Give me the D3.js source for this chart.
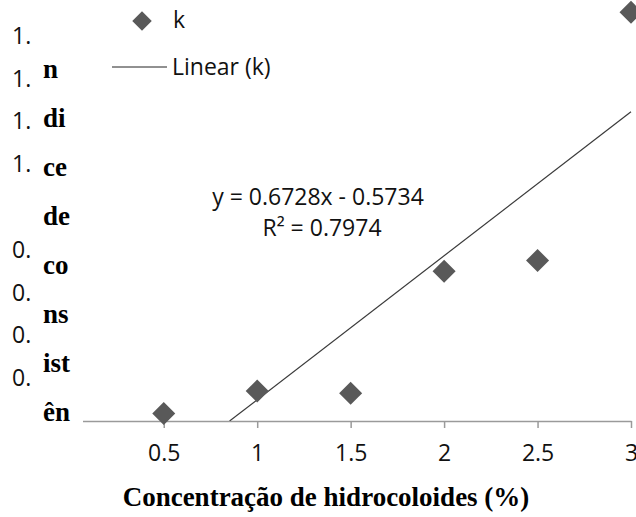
<!DOCTYPE html>
<html>
<head>
<meta charset="utf-8">
<script src="https://cdn.jsdelivr.net/npm/d3@7"></script>
<style>
  body { margin: 0; background: #fff; }
  svg { display: block; }
</style>
</head>
<body>
<script>
// Consistency index k versus hydrocolloid concentration
const concentration = [0.5, 1, 1.5, 2, 2.5, 3];
const kValues = [0.035, 0.14, 0.13, 0.70, 0.75, 1.91];
const xTicks = [0.5, 1, 1.5, 2, 2.5, 3];
const yTicks = [0.2, 0.4, 0.6, 0.8, 1.2, 1.4, 1.6, 1.8];
const trendSlope = 0.6728;
const trendIntercept = -0.5734;
const trendR2 = 0.7974;
const yTitleLines = ["n", "di", "ce", "de", "co", "ns", "ist", "ên"];
const xTitle = "Concentração de hidrocoloides (%)";

const W = 636, H = 517;
const sans = "'Open Sans', sans-serif";
const serif = "'Liberation Serif', 'Times New Roman', serif";
const markColor = "#595959";
const textSize = 23;

const svg = d3.select("body").append("svg")
  .attr("width", W).attr("height", H);

const x = d3.scaleLinear().domain([0, 3]).range([70.3, 631]);
const y = d3.scaleLinear().domain([0, 2]).range([421, -7]);

// clip region for the plot area
svg.append("clipPath").attr("id", "plot-clip")
  .append("rect")
  .attr("x", x(0)).attr("y", y(2))
  .attr("width", x(3) - x(0) + 10).attr("height", y(0) - y(2));

// x axis
const xAxis = svg.append("g")
  .attr("transform", `translate(0,${y(0)})`)
  .call(d3.axisBottom(x).tickValues(xTicks).tickSize(7).tickSizeOuter(0)
    .tickFormat(d3.format("")));
xAxis.select(".domain").attr("stroke", "#9a9a9a").attr("stroke-width", 1.5);
xAxis.selectAll(".tick line").attr("stroke", "#9a9a9a").attr("stroke-width", 1.5);
xAxis.selectAll(".tick text")
  .attr("y", 40).attr("dy", null)
  .attr("font-family", sans).attr("font-size", textSize).attr("fill", "#111");

// y tick labels (cut short at the left edge)
svg.append("g").selectAll("text")
  .data(yTicks)
  .join("text")
  .attr("x", 12)
  .attr("y", d => y(d) + 8)
  .attr("font-family", sans).attr("font-size", textSize).attr("fill", "#111")
  .text(d => d3.format(".1f")(d).slice(0, 2));

// trend line
const xStart = Math.max(d3.min(concentration), -trendIntercept / trendSlope);
const xEnd = d3.max(concentration);
svg.append("line")
  .attr("clip-path", "url(#plot-clip)")
  .attr("x1", x(xStart)).attr("y1", y(trendSlope * xStart + trendIntercept))
  .attr("x2", x(xEnd)).attr("y2", y(trendSlope * xEnd + trendIntercept))
  .attr("stroke", "#3a3a3a").attr("stroke-width", 1.2);

// data points
const diamond = d3.symbol().type(d3.symbolSquare).size(265);
svg.append("g").selectAll("path")
  .data(concentration.map((c, i) => [c, kValues[i]]))
  .join("path")
  .attr("d", diamond)
  .attr("transform", d => `translate(${x(d[0])},${y(d[1])}) rotate(45)`)
  .attr("fill", markColor);

// y axis title box
const yTitle = svg.append("g");
yTitle.append("rect")
  .attr("x", 40).attr("y", 50).attr("width", 43).attr("height", 380)
  .attr("fill", "#fff");
yTitle.selectAll("text")
  .data(yTitleLines)
  .join("text")
  .attr("x", 43)
  .attr("y", (d, i) => 78 + i * 49)
  .attr("font-family", serif).attr("font-weight", "bold").attr("font-size", 27)
  .attr("fill", "#000")
  .text(d => d);

// x axis title
svg.append("text")
  .attr("x", 326).attr("y", 506)
  .attr("text-anchor", "middle")
  .attr("font-family", serif).attr("font-weight", "bold").attr("font-size", 27)
  .attr("fill", "#000")
  .text(xTitle);

// regression label
const fmt4 = d3.format(".4f");
const eq = svg.append("text")
  .attr("text-anchor", "middle")
  .attr("font-family", sans).attr("font-size", textSize).attr("fill", "#111");
eq.append("tspan").attr("x", 318).attr("y", 205)
  .text(`y = ${fmt4(trendSlope)}x - ${fmt4(-trendIntercept)}`);
eq.append("tspan").attr("x", 322).attr("y", 236)
  .text(`R² = ${fmt4(trendR2)}`);

// legend
const legend = svg.append("g");
legend.append("path")
  .attr("d", d3.symbol().type(d3.symbolSquare).size(190))
  .attr("transform", "translate(142,21) rotate(45)")
  .attr("fill", markColor);
legend.append("text")
  .attr("x", 173).attr("y", 28)
  .attr("font-family", sans).attr("font-size", textSize).attr("fill", "#111")
  .text("k");
legend.append("line")
  .attr("x1", 112).attr("x2", 167).attr("y1", 67).attr("y2", 67)
  .attr("stroke", "#222").attr("stroke-width", 1);
legend.append("text")
  .attr("x", 172).attr("y", 75)
  .attr("font-family", sans).attr("font-size", textSize).attr("fill", "#111")
  .text("Linear (k)");
</script>
</body>
</html>
